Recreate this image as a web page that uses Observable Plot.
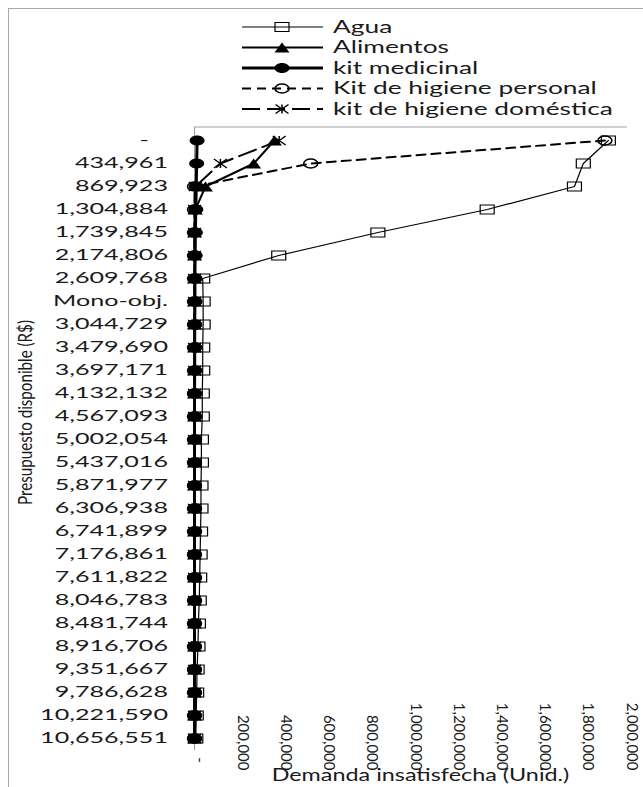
<!DOCTYPE html>
<html><head><meta charset="utf-8">
<script src="https://cdn.jsdelivr.net/npm/d3@7"></script>
<script src="https://cdn.jsdelivr.net/npm/@observablehq/plot@0.6"></script>
<style>
html,body{margin:0;padding:0;background:#fff;overflow:hidden;}
#wrap{position:relative;width:643px;height:787px;overflow:hidden;background:#fff;}
#border{position:absolute;left:8px;top:8px;width:720px;height:900px;border:1.5px solid #a8a8a8;box-sizing:border-box;}
#chart{position:absolute;left:0;top:0;}
</style></head><body>
<div id="wrap"><div id="border"></div><div id="chart"></div></div>
<script>
// ---------- data ----------
const categories = ["-", "434,961", "869,923", "1,304,884", "1,739,845", "2,174,806", "2,609,768", "Mono-obj.",
  "3,044,729", "3,479,690", "3,697,171", "4,132,132", "4,567,093", "5,002,054", "5,437,016", "5,871,977",
  "6,306,938", "6,741,899", "7,176,861", "7,611,822", "8,046,783", "8,481,744", "8,916,706", "9,351,667",
  "9,786,628", "10,221,590", "10,656,551"];
const agua = [1916000, 1800000, 1759000, 1355000, 849000, 390000, 38000, 40000, 40000, 38000, 38000, 36000, 36000,
  32000, 32000, 30000, 30000, 28000, 26000, 24000, 22000, 18000, 16000, 12000, 10000, 8000, 6000];
const alimentos = [370000, 274000, 51000, 4000, 0, 0, 0, 0, 0, 0, 0, 0, 0, 0, 0, 0, 0, 0, 0, 0, 0, 0, 0, 0, 0, 0, 0];
const kitMedicinal = [12000, 10000, 8000, 6000, 4000, 3000, 2000, 2000, 1000, 1000, 1000, 0, 0, 0, 0, 0, 0, 0, 0, 0, 0, 0, 0, 0, 0, 0, 0];
const kitHigienePersonal = [1900000, 538000, 0, 0, 0, 0, 0, 0, 0, 0, 0, 0, 0, 0, 0, 0, 0, 0, 0, 0, 0, 0, 0, 0, 0, 0, 0];
const kitHigieneDomestica = [392000, 120000, 4000, 0, 0, 0, 0, 0, 0, 0, 0, 0, 0, 0, 0, 0, 0, 0, 0, 0, 0, 0, 0, 0, 0, 0, 0];
const seriesNames = ["Agua", "Alimentos", "kit medicinal", "Kit de higiene personal", "kit de higiene doméstica"];
const xTicks = [0, 200000, 400000, 600000, 800000, 1000000, 1200000, 1400000, 1600000, 1800000, 2000000];
const xTitle = "Demanda insatisfecha (Unid.)";
const yTitle = "Presupuesto disponible (R$)";

// ---------- symbols ----------
function rectSym(w, h) { return {draw(c) { c.rect(-w / 2, -h / 2, w, h); }}; }
function ellipseSym(rx, ry) { return {draw(c) {
  const kx = rx * 0.5523, ky = ry * 0.5523;
  c.moveTo(rx, 0); c.bezierCurveTo(rx, ky, kx, ry, 0, ry); c.bezierCurveTo(-kx, ry, -rx, ky, -rx, 0);
  c.bezierCurveTo(-rx, -ky, -kx, -ry, 0, -ry); c.bezierCurveTo(kx, -ry, rx, -ky, rx, 0); c.closePath(); }}; }
function triSym(w, h) { return {draw(c) { c.moveTo(0, -h / 2); c.lineTo(w / 2, h / 2); c.lineTo(-w / 2, h / 2); c.closePath(); }}; }
function starSym(w, h) { return {draw(c) {
  c.moveTo(-w / 2, -h / 2); c.lineTo(w / 2, h / 2); c.moveTo(w / 2, -h / 2); c.lineTo(-w / 2, h / 2);
  c.moveTo(0, -h / 2); c.lineTo(0, h / 2); }}; }

const styles = [
  {values: agua, sw: 1.2, dash: null, sym: rectSym(14, 9), fill: "none", stroke: "#000", msw: 1.2},
  {values: alimentos, sw: 2, dash: null, sym: triSym(15, 10), fill: "#000", stroke: "none", msw: 0},
  {values: kitMedicinal, sw: 3, dash: null, sym: ellipseSym(7.5, 5), fill: "#000", stroke: "none", msw: 0},
  {values: kitHigienePersonal, sw: 2, dash: "9,6", sym: ellipseSym(7, 4.5), fill: "none", stroke: "#000", msw: 1.5},
  {values: kitHigieneDomestica, sw: 2, dash: "18,7", sym: starSym(13, 9), fill: "none", stroke: "#000", msw: 1.5}
];
const drawOrder = [0, 3, 4, 1, 2];

const marks = [Plot.ruleX([0], {stroke: "#9a9a9a", strokeWidth: 1})];
for (const i of drawOrder) {
  const s = styles[i];
  const data = categories.map((c, j) => ({cat: c, value: s.values[j], series: seriesNames[i]}));
  marks.push(Plot.line(data, {x: "value", y: "cat", stroke: "#000", strokeWidth: s.sw, strokeDasharray: s.dash, curve: "linear"}));
  marks.push(Plot.dot(data, {x: "value", y: "cat", symbol: s.sym, fill: s.fill, stroke: s.stroke, strokeWidth: s.msw}));
}
const fmtX = v => v === 0 ? "-\u00a0\u00a0" : d3.format(",")(v);
marks.push(
  Plot.text(xTicks, {x: d => d, text: fmtX, frameAnchor: "bottom", rotate: 90, textAnchor: "end", dy: 20, fontSize: 15, fill: "#1a1a1a"}),
  Plot.text([xTitle], {frameAnchor: "bottom", textAnchor: "middle", dx: 10, dy: 30, fontSize: 16.5, fill: "#1a1a1a", ariaLabel: () => "xtitle"})
);

const chart = Plot.plot({
  width: 643, height: 787,
  marginTop: 127, marginBottom: 37, marginLeft: 194, marginRight: 17,
  style: {fontFamily: "Lato, sans-serif", background: "transparent", overflow: "visible"},
  x: {domain: [0, 2000000], axis: null},
  y: {type: "point", domain: categories, padding: 0.5, axis: null},
  marks
});
document.getElementById("chart").appendChild(chart);

const svg = d3.select(chart);
const xs = chart.scale("x");
const ys = chart.scale("y");
// top border of plot area
svg.append("line").attr("x1", xs.range[0]).attr("x2", xs.range[1] + 1).attr("y1", 127).attr("y2", 127)
  .attr("stroke", "#a0a0a0").attr("stroke-width", 1.2);

// ---------- y tick labels (category axis) through the y scale ----------
const yg = svg.append("g").attr("font-family", "Lato, sans-serif").attr("fill", "#1a1a1a");
const yLabelX = xs.range[0] - 26;
categories.forEach(c => {
  yg.append("text").attr("class", "ytick").attr("x", yLabelX).attr("y", ys.apply(c)).attr("dy", "0.35em")
    .attr("text-anchor", "end").attr("font-size", 15.5).text(c === "-" ? "-\u00a0\u00a0\u00a0" : c);
});
// y axis title
yg.append("text").attr("class", "ytitle").attr("x", 0).attr("y", 0)
  .attr("transform", `translate(25,${(ys.range[0] + ys.range[1]) / 2 - 26}) rotate(-90)`)
  .attr("dy", "0.35em").attr("text-anchor", "middle").attr("font-size", 19).text(yTitle);

// ---------- legend ----------
const lg = svg.append("g").attr("font-family", "Lato, sans-serif").attr("text-anchor", "start");
const legTop = 27, legStep = 20.5, lineX0 = 242, lineX1 = 323, markX = 282, textX = 333;
seriesNames.forEach((name, i) => {
  const s = styles[i];
  const y = legTop + i * legStep;
  lg.append("line").attr("x1", lineX0).attr("x2", lineX1).attr("y1", y).attr("y2", y)
    .attr("stroke", "#000").attr("stroke-width", s.sw).attr("stroke-dasharray", s.dash);
  const p = d3.path(); s.sym.draw(p);
  lg.append("path").attr("d", p.toString()).attr("transform", `translate(${markX},${y})`)
    .attr("fill", s.fill).attr("stroke", s.stroke).attr("stroke-width", s.msw);
  lg.append("text").attr("class", "legtext").attr("x", textX).attr("y", y).attr("dy", "0.35em")
    .attr("text-anchor", "start").attr("font-size", 16.5).attr("fill", "#1a1a1a").text(name);
});

// ---------- horizontal stretch of text along its own direction ----------
function stretch(sel, refText, refLen) {
  let k = 1;
  sel.each(function () { if (this.textContent === refText) k = refLen / this.getComputedTextLength(); });
  if (!isFinite(k) || k <= 0) k = 1;
  sel.each(function () {
    const t = this.getAttribute("transform") || "";
    const x = +(this.getAttribute("x") || 0), y = +(this.getAttribute("y") || 0);
    this.setAttribute("x", 0); this.setAttribute("y", 0);
    this.setAttribute("transform", `${t} translate(${x},${y}) scale(${k},1)`);
  });
}
stretch(svg.selectAll(".ytick"), "10,656,551", 128);
stretch(svg.selectAll(".legtext"), "Kit de higiene personal", 264);
stretch(svg.selectAll('text[aria-label="xtitle"]'), xTitle, 298);
stretch(svg.selectAll(".ytitle"), yTitle, 185);
</script>
</body></html>
